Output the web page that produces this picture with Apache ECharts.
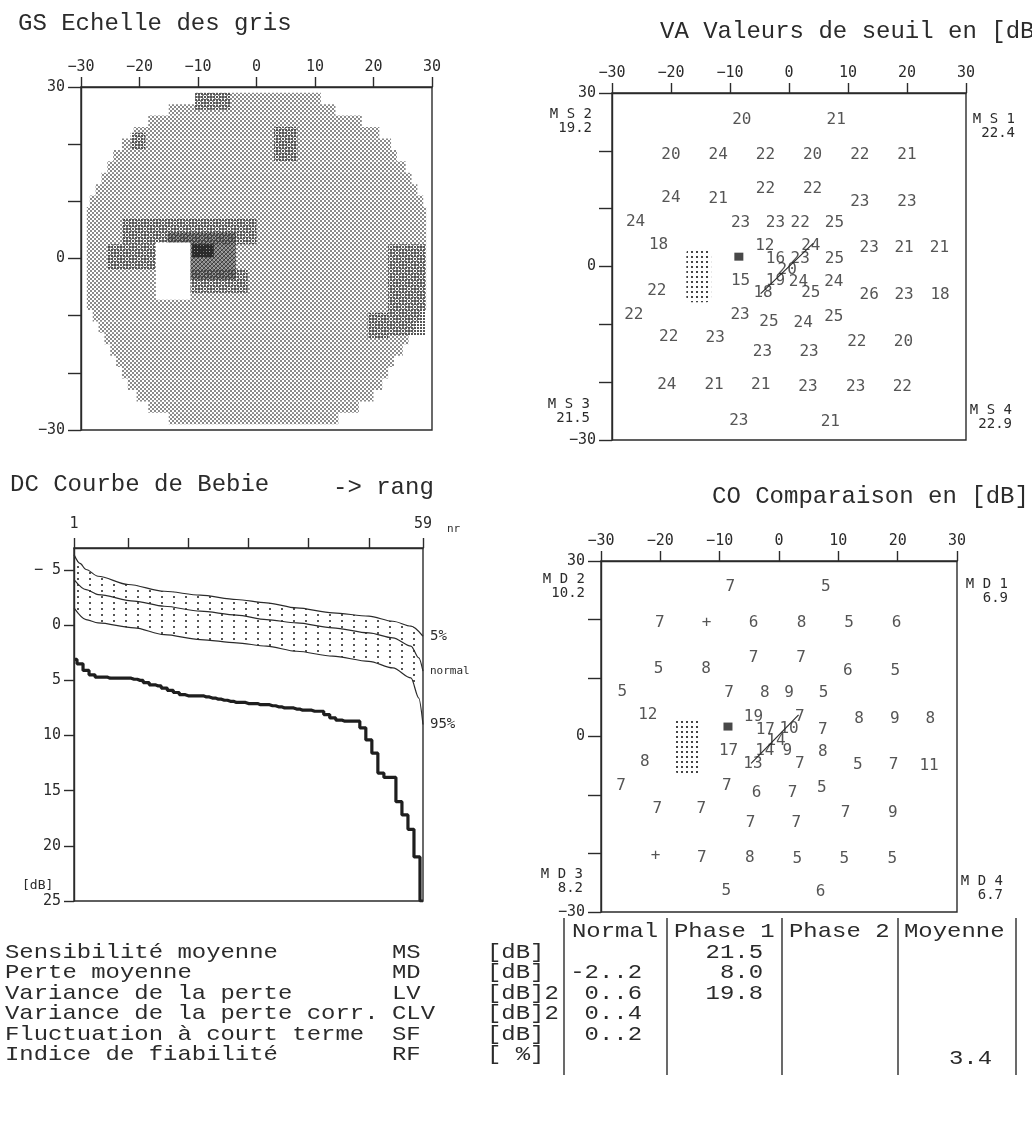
<!DOCTYPE html>
<html>
<head>
<meta charset="utf-8">
<title>Octopus G1</title>
<script src="https://cdn.jsdelivr.net/npm/echarts@6/dist/echarts.min.js"></script>
<style>
  html, body { margin: 0; background: #fff; }
  #chart { width: 1032px; height: 1124px; }
</style>
</head>
<body>
<div id="chart"></div>
<script>
// GS grey scale cells: [x0, x1, y0, y1, level]  (0 white, 1 light, 2 medium, 3 hatched, 4 dark)
const gsCells = [
  [-10.5, 11, 27, 29, 1],
  [-15, 13.5, 25, 27, 1],
  [-18.5, 18, 23, 25, 1],
  [-21, 21, 21, 23, 1],
  [-23, 23, 19, 21, 1],
  [-24.5, 24, 17, 19, 1],
  [-25.5, 25.5, 15, 17, 1],
  [-26.5, 26.5, 13, 15, 1],
  [-27.5, 27.5, 11, 13, 1],
  [-28.5, 28.5, 9, 11, 1],
  [-29, 29, -9, 9, 1],
  [-28, 28, -11, -9, 1],
  [-27, 27, -13, -11, 1],
  [-26, 26, -15, -13, 1],
  [-25, 25, -17, -15, 1],
  [-24, 23.5, -19, -17, 1],
  [-23, 22.5, -21, -19, 1],
  [-22, 21.5, -23, -21, 1],
  [-20.5, 20, -25, -23, 1],
  [-18.5, 17.5, -27, -25, 1],
  [-15, 14, -29, -27, 1],
  [-10.5, -4.5, 26, 29, 2],
  [3, 7, 17, 23, 2],
  [-21.5, -19, 19, 22, 2],
  [-23, 0, 2.5, 7, 2],
  [-25.5, -17, -2, 2.5, 2],
  [-11.5, -1.5, -6, -2, 2],
  [22.5, 28.8, -13.5, 2.5, 2],
  [19, 22.5, -14, -9.5, 2],
  [-15.2, -3.5, -3.7, 4.5, 3],
  [-17.2, -11.3, -7.2, 2.8, 0],
  [-11, -7.3, 0.2, 2.5, 4]
]

// VA threshold values: [x, y, dB]
const vaPoints = [
  [-8, 25.4, 20], [8, 25.3, 21],
  [-20, 19.3, 20], [-12, 19.3, 24], [-4, 19.3, 22], [4, 19.3, 20], [12, 19.3, 22], [20, 19.3, 21],
  [-20, 11.8, 24], [-12, 11.7, 21], [-4, 13.4, 22], [4, 13.4, 22], [12, 11.2, 23], [20, 11.2, 23],
  [-26, 7.8, 24], [-8.2, 7.6, 23], [-2.3, 7.6, 23], [1.9, 7.6, 22], [7.7, 7.6, 25],
  [-22.1, 3.7, 18], [-4.1, 3.5, 12], [3.7, 3.5, 24], [13.6, 3.2, 23], [19.5, 3.2, 21], [25.5, 3.2, 21],
  [-2.3, 1.4, 16], [1.9, 1.4, 23], [7.7, 1.3, 25], [-0.3, -0.6, 20],
  [-8.2, -2.4, 15], [-2.3, -2.4, 19], [1.6, -2.6, 24], [7.6, -2.6, 24],
  [-22.4, -4.2, 22], [-4.4, -4.6, 18], [3.7, -4.6, 25], [13.6, -4.9, 26], [19.5, -4.9, 23], [25.6, -4.9, 18],
  [-26.3, -8.4, 22], [-8.3, -8.4, 23], [-3.4, -9.5, 25], [2.4, -9.7, 24], [7.6, -8.7, 25],
  [-20.4, -12.2, 22], [-12.5, -12.4, 23], [-4.5, -14.7, 23], [3.4, -14.7, 23], [11.5, -13, 22], [19.4, -13, 20],
  [-20.7, -20.5, 24], [-12.7, -20.5, 21], [-4.8, -20.5, 21], [3.2, -20.8, 23], [11.3, -20.8, 23], [19.2, -20.8, 22],
  [-8.5, -26.7, 23], [7, -26.8, 21]
]

// CO comparison values: [x, y, label]
const coPoints = [
  [-8.2, 25.5, '7'], [7.9, 25.5, '5'],
  [-20.1, 19.5, '7'], [-12.2, 19.5, '+'], [-4.3, 19.5, '6'], [3.8, 19.5, '8'], [11.8, 19.5, '5'], [19.8, 19.5, '6'],
  [-20.3, 11.6, '5'], [-12.3, 11.6, '8'], [-4.3, 13.4, '7'], [3.7, 13.4, '7'], [11.6, 11.3, '6'], [19.6, 11.2, '5'],
  [-26.4, 7.6, '5'], [-8.4, 7.4, '7'], [-2.4, 7.4, '8'], [1.7, 7.4, '9'], [7.5, 7.4, '5'],
  [-22.1, 3.7, '12'], [-4.3, 3.4, '19'], [3.5, 3.4, '7'], [13.5, 3.1, '8'], [19.5, 3.1, '9'], [25.5, 3.1, '8'],
  [-2.3, 1.1, '17'], [1.7, 1.3, '10'], [7.4, 1.1, '7'], [-0.5, -0.8, '14'],
  [-8.5, -2.5, '17'], [-2.4, -2.5, '14'], [1.4, -2.5, '9'], [7.4, -2.7, '8'],
  [-22.6, -4.4, '8'], [-4.4, -4.7, '13'], [3.5, -4.7, '7'], [13.3, -4.9, '5'], [19.3, -4.9, '7'], [25.3, -5.1, '11'],
  [-26.6, -8.5, '7'], [-8.8, -8.5, '7'], [-3.8, -9.6, '6'], [2.3, -9.6, '7'], [7.2, -8.8, '5'],
  [-20.5, -12.4, '7'], [-13.1, -12.4, '7'], [-4.8, -14.7, '7'], [2.9, -14.7, '7'], [11.2, -13, '7'], [19.2, -13, '9'],
  [-20.8, -20.4, '+'], [-13, -20.7, '7'], [-4.9, -20.8, '8'], [3.1, -20.9, '5'], [11, -20.9, '5'], [19.1, -20.9, '5'],
  [-8.9, -26.4, '5'], [7, -26.6, '6']
]

const vaSquare = [[-8.5, 1.7]]
const coSquare = [[-8.6, 1.7]]
const vaBlind = [[-17.4, -13.2, -6.2, 3.1]]
const coBlind = [[-17.5, -13.3, -6.5, 3.1]]
const vaSlash = [[-4.8, -4.7], [4.1, 4.0]]
const coSlash = [[-4.7, -4.6], [3.3, 3.7]]

// corner means
const vaCorners = [['M S 2', '19.2'], ['M S 1', '22.4'], ['M S 3', '21.5'], ['M S 4', '22.9']]
const coCorners = [['M D 2', '10.2'], ['M D 1', '6.9'], ['M D 3', '8.2'], ['M D 4', '6.7']]

// Bebie curve: [rank, dB]
const bebie5 = [[1, -6.4], [2, -5.6], [3, -5.05], [5, -4.44], [10, -3.69], [16, -3.08], [22, -2.72], [28, -2.33],
  [33, -2.03], [38, -1.57], [44, -1.12], [50, -0.82], [54, -0.36], [57, 0.09], [59, 1.0]]
const bebieNormal = [[1, -4.14], [3, -3.23], [5, -2.78], [11, -2.18], [16, -1.72], [22, -1.27], [28, -0.91],
  [33, -0.51], [38, -0.21], [44, 0.24], [50, 0.7], [54, 1.15], [57, 1.9], [58.3, 2.96], [59, 4.17]]
const bebie95 = [[1, -1.57], [3, -0.51], [5, -0.21], [11, 0.24], [16, 0.85], [22, 1.3], [28, 1.6], [33, 1.9],
  [38, 2.36], [44, 2.81], [50, 3.27], [54, 3.87], [57, 4.78], [58.3, 6.6], [59, 9.0]]
const bebiePatient = [3.1, 3.5, 4.1, 4.5, 4.7, 4.7, 4.8, 4.8, 4.8, 4.8, 4.9, 5.0, 5.2, 5.4, 5.5, 5.7, 5.9, 6.1, 6.3, 6.4,
  6.4, 6.4, 6.5, 6.6, 6.7, 6.8, 6.9, 7.0, 7.0, 7.1, 7.1, 7.2, 7.2, 7.3, 7.4, 7.5, 7.5, 7.6, 7.7, 7.7,
  7.8, 7.8, 8.1, 8.4, 8.6, 8.7, 8.7, 8.7, 9.3, 10.4, 11.6, 13.4, 13.8, 13.8, 16.0, 17.2, 18.5, 21.0, 25.0]
const bebieTicks = [1, 10, 20, 30, 40, 50, 59]
const bebieRankLabels = [1, 59]
const bebieDbTicks = [-5, 0, 5, 10, 15, 20, 25]

// table
const tableHeaders = ['Normal', 'Phase 1', 'Phase 2', 'Moyenne']
const tableLabels = ['Sensibilité moyenne', 'Perte moyenne', 'Variance de la perte',
  'Variance de la perte corr.', 'Fluctuation à court terme', 'Indice de fiabilité']
const tableAbbr = ['MS', 'MD', 'LV', 'CLV', 'SF', 'RF']
const tableUnits = ['[dB]', '[dB]', '[dB]2', '[dB]2', '[dB]', '[ %]']
const tableNormal = ['', '-2..2', '0..6', '0..4', '0..2', '']
const tablePhase1 = ['21.5', '8.0', '19.8', '', '', '']
const tablePhase2 = ['', '', '', '', '', '']
const tableMoyenne = ['', '', '', '', '', '3.4']

const ink = '#2b2b2b'
const mono = "'Liberation Mono', monospace"
const plot = "'DejaVu Sans Mono', monospace"

const makePattern = (w, h, draw) => {
  const c = document.createElement('canvas')
  c.width = w
  c.height = h
  draw(c.getContext('2d'))
  return { image: c, repeat: 'repeat' }
}

const fills = [
  '#ffffff',
  makePattern(4, 4, g => {
    g.fillStyle = '#8a8a8a'
    g.fillRect(0, 0, 2, 2)
    g.fillRect(2, 2, 2, 2)
  }),
  makePattern(3, 3, g => {
    g.fillStyle = '#565656'
    g.fillRect(0, 0, 2, 2)
  }),
  makePattern(4, 4, g => {
    g.strokeStyle = '#3a3a3a'
    g.lineWidth = 1.3
    g.beginPath()
    g.moveTo(0, 4); g.lineTo(4, 0)
    g.moveTo(-1, 1); g.lineTo(1, -1)
    g.moveTo(3, 5); g.lineTo(5, 3)
    g.stroke()
  }),
  makePattern(3, 3, g => {
    g.fillStyle = '#2a2a2a'
    g.fillRect(0, 0, 3, 3)
    g.clearRect(2, 2, 1, 1)
  })
]
const blindFill = makePattern(5, 5, g => {
  g.fillStyle = '#444'
  g.fillRect(1, 1, 2, 2)
})
const bandFill = makePattern(12, 6, g => {
  g.fillStyle = '#555'
  g.fillRect(5, 2, 2, 2)
})

const sgn = v => (v < 0 ? '\u2212' + Math.abs(v) : String(v))
const axisLine = { onZero: false, lineStyle: { color: ink, width: 1.4 } }

const fieldX = gridIndex => ({
  gridIndex,
  type: 'value',
  position: 'top',
  min: -30,
  max: 30,
  interval: 10,
  axisLine,
  axisTick: { length: 10, lineStyle: { color: ink, width: 1.4 } },
  axisLabel: { margin: 12, color: ink, fontFamily: plot, fontSize: 15, formatter: sgn },
  splitLine: { show: false }
})

const fieldY = gridIndex => ({
  gridIndex,
  type: 'value',
  min: -30,
  max: 30,
  interval: 10,
  axisLine,
  axisTick: { length: 13, lineStyle: { color: ink, width: 1.4 } },
  axisLabel: {
    margin: 16,
    color: ink,
    fontFamily: plot,
    fontSize: 15,
    formatter: v => (v === 30 || v === 0 || v === -30 ? sgn(v) : '')
  },
  splitLine: { show: false }
})

const frame = (left, top, width, height) => ({
  left, top, width, height,
  show: true,
  borderColor: ink,
  borderWidth: 1.4,
  backgroundColor: 'transparent',
  z: 10
})

const cellRender = fillFn => (params, api) => {
  const p0 = api.coord([api.value(0), api.value(3)])
  const p1 = api.coord([api.value(1), api.value(2)])
  return {
    type: 'rect',
    shape: { x: p0[0], y: p0[1], width: p1[0] - p0[0], height: p1[1] - p0[1], r: fillFn === null ? 5 : 0 },
    style: { fill: fillFn === null ? blindFill : fills[api.value(4)] }
  }
}

const valueSeries = (idx, points) => ({
  type: 'scatter',
  xAxisIndex: idx,
  yAxisIndex: idx,
  data: points,
  symbolSize: 2,
  itemStyle: { color: 'rgba(0,0,0,0)' },
  label: {
    show: true,
    position: 'inside',
    color: ink,
    fontFamily: plot,
    fontSize: 16,
    formatter: p => String(p.value[2])
  },
  z: 4
})

const extras = (idx, blind, square, slash) => [
  {
    type: 'custom',
    xAxisIndex: idx,
    yAxisIndex: idx,
    data: blind,
    encode: { x: [0, 1], y: [2, 3] },
    renderItem: cellRender(null)
  },
  {
    type: 'scatter',
    xAxisIndex: idx,
    yAxisIndex: idx,
    data: square,
    symbol: 'rect',
    symbolSize: [9, 8],
    itemStyle: { color: '#1a1a1a' }
  },
  {
    type: 'line',
    xAxisIndex: idx,
    yAxisIndex: idx,
    data: slash,
    showSymbol: false,
    lineStyle: { color: ink, width: 1.2 }
  }
]

const text = (x, y, str, font, align, scaleX) => ({
  type: 'text',
  x,
  y,
  scaleX: scaleX || 1,
  style: { text: str, font, fill: ink, textAlign: align || 'left', textVerticalAlign: 'middle' }
})
const corner = (x, y, pair) => text(x, y, pair[0] + '\n' + pair[1], '14px ' + plot, 'right')

const graphics = [
  text(18, 24, 'GS Echelle des gris', '24px ' + mono),
  text(660, 32, 'VA Valeurs de seuil en [dB]', '24px ' + mono),
  text(10, 485, 'DC Courbe de Bebie', '24px ' + mono),
  text(333, 488, '-> rang', '24px ' + mono),
  text(712, 497, 'CO Comparaison en [dB]', '24px ' + mono),
  text(22, 886, '[dB]', '13px ' + plot),
  corner(592, 121, vaCorners[0]),
  corner(1015, 126, vaCorners[1]),
  corner(590, 411, vaCorners[2]),
  corner(1012, 417, vaCorners[3]),
  corner(585, 586, coCorners[0]),
  corner(1008, 591, coCorners[1]),
  corner(583, 881, coCorners[2]),
  corner(1003, 888, coCorners[3])
]

// table: condensed typewriter look, 21px font stretched to the 14.4px pitch
const rowY = [952, 972.5, 993, 1013.5, 1034, 1054.5]
const tf = '21px ' + mono
const sx = 1.14
const headX = [572, 674, 789, 904]
tableHeaders.forEach((h, i) => graphics.push(text(headX[i], 931, h, tf, 'left', sx)))
tableLabels.forEach((t, i) => {
  graphics.push(text(5, rowY[i], t, tf, 'left', sx))
  graphics.push(text(392, rowY[i], tableAbbr[i], tf, 'left', sx))
  graphics.push(text(487, rowY[i], tableUnits[i], tf, 'left', sx))
  graphics.push(text(642, rowY[i], tableNormal[i], tf, 'right', sx))
  graphics.push(text(763, rowY[i], tablePhase1[i], tf, 'right', sx))
  graphics.push(text(880, rowY[i], tablePhase2[i], tf, 'right', sx))
  graphics.push(text(992, rowY[i] + 4, tableMoyenne[i], tf, 'right', sx))
})
;[564, 667, 782, 898, 1016].forEach(x => {
  graphics.push({
    type: 'line',
    shape: { x1: x, y1: 918, x2: x, y2: 1075 },
    style: { stroke: ink, lineWidth: 1.4 }
  })
})

const chart = echarts.init(document.getElementById('chart'))
chart.setOption({
  animation: false,
  backgroundColor: '#fff',
  grid: [
    frame(81, 87, 351, 343),
    frame(612, 93, 354, 347),
    frame(74, 548, 349, 353),
    frame(601, 561, 356, 351)
  ],
  xAxis: [
    fieldX(0),
    fieldX(1),
    {
      gridIndex: 2,
      type: 'value',
      position: 'top',
      min: 1,
      max: 59,
      z: 10,
      name: 'nr',
      nameLocation: 'end',
      nameGap: 24,
      nameTextStyle: { color: ink, fontFamily: plot, fontSize: 11, verticalAlign: 'bottom', padding: [0, 0, 13, 0] },
      axisLine,
      axisTick: { length: 10, customValues: bebieTicks, lineStyle: { color: ink, width: 1.4 } },
      axisLabel: { margin: 16, customValues: bebieRankLabels, color: ink, fontFamily: plot, fontSize: 15 },
      splitLine: { show: false }
    },
    fieldX(3)
  ],
  yAxis: [
    fieldY(0),
    fieldY(1),
    {
      gridIndex: 2,
      type: 'value',
      inverse: true,
      min: -7,
      max: 25,
      z: 10,
      axisLine,
      axisTick: { length: 10, customValues: bebieDbTicks, lineStyle: { color: ink, width: 1.4 } },
      axisLabel: {
        margin: 13,
        customValues: bebieDbTicks,
        color: ink,
        fontFamily: plot,
        fontSize: 15,
        formatter: v => (v < 0 ? '\u2212 ' + Math.abs(v) : String(v))
      },
      splitLine: { show: false }
    },
    fieldY(3)
  ],
  graphic: { elements: graphics },
  series: [
    {
      type: 'custom',
      xAxisIndex: 0,
      yAxisIndex: 0,
      data: gsCells,
      encode: { x: [0, 1], y: [2, 3] },
      renderItem: cellRender(fills)
    },
    valueSeries(1, vaPoints),
    ...extras(1, vaBlind, vaSquare, vaSlash),
    {
      type: 'line',
      xAxisIndex: 2,
      yAxisIndex: 2,
      data: bebie95,
      smooth: 0.3,
      smoothMonotone: 'x',
      showSymbol: false,
      lineStyle: { color: ink, width: 1.2 },
      areaStyle: { origin: 'start', color: bandFill, opacity: 1 },
      endLabel: { show: true, formatter: '95%', distance: 7, color: ink, fontFamily: plot, fontSize: 14 },
      z: 2
    },
    {
      type: 'line',
      xAxisIndex: 2,
      yAxisIndex: 2,
      data: bebie5,
      smooth: 0.3,
      smoothMonotone: 'x',
      showSymbol: false,
      lineStyle: { color: ink, width: 1.2 },
      areaStyle: { origin: 'start', color: '#fff', opacity: 1 },
      endLabel: { show: true, formatter: '5%', distance: 7, color: ink, fontFamily: plot, fontSize: 14 },
      z: 3
    },
    {
      type: 'line',
      xAxisIndex: 2,
      yAxisIndex: 2,
      data: bebieNormal,
      smooth: 0.3,
      smoothMonotone: 'x',
      showSymbol: false,
      lineStyle: { color: ink, width: 1.2 },
      endLabel: { show: true, formatter: 'normal', distance: 7, color: ink, fontFamily: plot, fontSize: 11 },
      z: 4
    },
    {
      type: 'line',
      xAxisIndex: 2,
      yAxisIndex: 2,
      data: bebiePatient.map((v, i) => [i + 1, v]),
      step: 'middle',
      showSymbol: false,
      lineStyle: { color: '#1e1e1e', width: 3.2 },
      z: 5
    },
    valueSeries(3, coPoints),
    ...extras(3, coBlind, coSquare, coSlash)
  ]
})
</script>
</body>
</html>
